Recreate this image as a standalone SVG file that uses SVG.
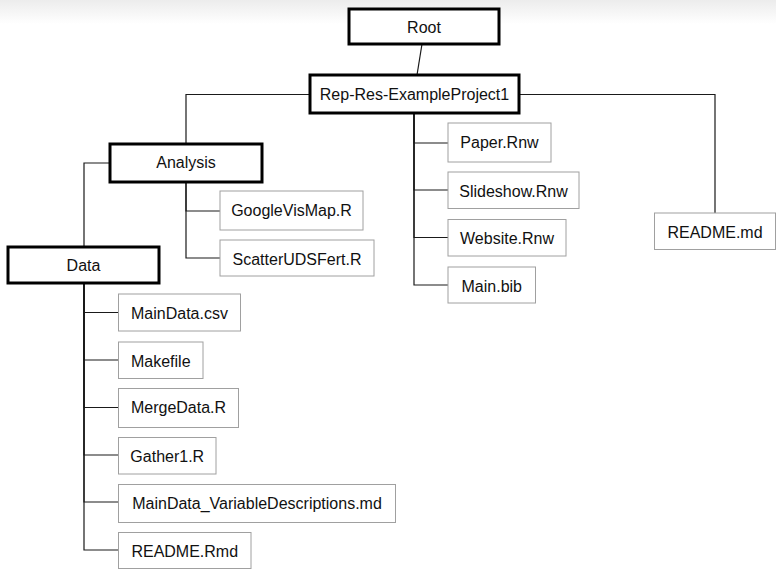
<svg xmlns="http://www.w3.org/2000/svg" width="776" height="569" viewBox="0 0 776 569">
<defs>
<linearGradient id="topfade" x1="0" y1="0" x2="0" y2="1">
<stop offset="0" stop-color="#ececec"/>
<stop offset="1" stop-color="#ffffff"/>
</linearGradient>
<style>
.main rect{fill:#fff;stroke:#000;stroke-width:3}
.file rect{fill:#fff;stroke:#a0a0a0;stroke-width:1}
text{font-family:"Liberation Sans",Arial,sans-serif;font-size:16px;fill:#111;text-anchor:middle}
#connectors path{fill:none;stroke:#1a1a1a;stroke-width:1.2}
</style>
</defs>
<rect x="0" y="0" width="776" height="569" fill="#fff"/>
<rect x="0" y="0" width="776" height="24" fill="url(#topfade)"/>
<g id="connectors">
<path d="M422 44 L417 75"/>
<path d="M310 94.5 H186 V144"/>
<path d="M519 94.5 H715 V213"/>
<path d="M414 113 V143 H448"/>
<path d="M414 113 V190 H448"/>
<path d="M414 113 V237.5 H448"/>
<path d="M414 113 V285 H448"/>
<path d="M110 163 H84 V247"/>
<path d="M186 182 V211 H220"/>
<path d="M186 182 V258 H220"/>
<path d="M84 283 V312.5 H118.5"/>
<path d="M84 283 V360 H118.5"/>
<path d="M84 283 V407.5 H118.5"/>
<path d="M84 283 V455 H118.5"/>
<path d="M84 283 V502 H118.5"/>
<path d="M84 283 V550 H118.5"/>
</g>
<g id="root" class="main"><rect x="349" y="9" width="150" height="35"/><text x="424" y="32.5">Root</text></g>
<g id="project" class="main"><rect x="310" y="75" width="209" height="38"/><text x="414.5" y="99.5">Rep-Res-ExampleProject1</text></g>
<g id="analysis" class="main"><rect x="110" y="144" width="152" height="38"/><text x="186" y="167.5">Analysis</text></g>
<g id="data" class="main"><rect x="8" y="247" width="151" height="36"/><text x="83.5" y="270.5">Data</text></g>
<g id="googlevismap" class="file"><rect x="220" y="191" width="143" height="39"/><text x="291.5" y="215.5">GoogleVisMap.R</text></g>
<g id="scatteruds" class="file"><rect x="220" y="240" width="154" height="36"/><text x="297" y="264.5">ScatterUDSFert.R</text></g>
<g id="paper" class="file"><rect x="448" y="123" width="103" height="39"/><text x="499.5" y="147.5">Paper.Rnw</text></g>
<g id="slideshow" class="file"><rect x="448" y="172" width="131" height="36.5"/><text x="513.5" y="196.5">Slideshow.Rnw</text></g>
<g id="website" class="file"><rect x="448" y="219.5" width="118" height="36.5"/><text x="507" y="244">Website.Rnw</text></g>
<g id="mainbib" class="file"><rect x="448" y="267" width="87.5" height="36"/><text x="491.75" y="291.5">Main.bib</text></g>
<g id="readme-md" class="file"><rect x="654.5" y="213" width="121" height="36.5"/><text x="715" y="237.5">README.md</text></g>
<g id="maindata-csv" class="file"><rect x="118.5" y="294" width="122" height="37"/><text x="179.5" y="318.5">MainData.csv</text></g>
<g id="makefile" class="file"><rect x="118.5" y="342" width="84.5" height="36.5"/><text x="160.75" y="366.5">Makefile</text></g>
<g id="mergedata" class="file"><rect x="118.5" y="388.5" width="120" height="39"/><text x="178.5" y="413">MergeData.R</text></g>
<g id="gather1" class="file"><rect x="118.5" y="437.5" width="97.5" height="36.5"/><text x="167.25" y="462">Gather1.R</text></g>
<g id="varDesc" class="file"><rect x="118.5" y="484.5" width="277" height="38"/><text x="257" y="509">MainData_VariableDescriptions.md</text></g>
<g id="readme-rmd" class="file"><rect x="118.5" y="532.5" width="132.5" height="36"/><text x="184.75" y="557">README.Rmd</text></g>
</svg>
